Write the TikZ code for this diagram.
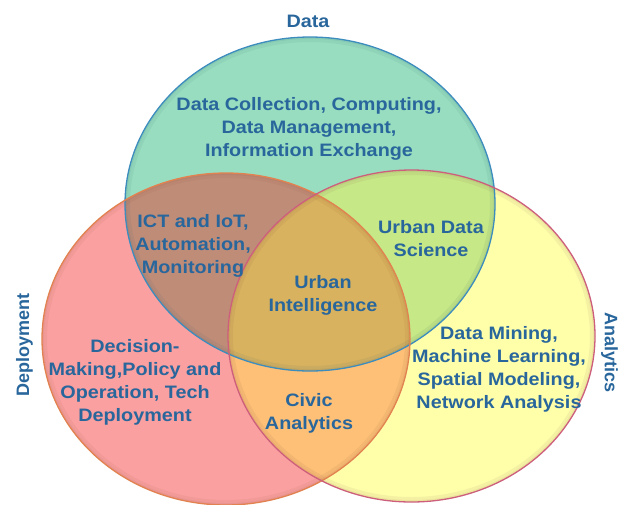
\documentclass[tikz,border=0pt]{standalone}
\usepackage{fontspec}
\setmainfont{Liberation Sans}
\newfontfamily\widefont{Liberation Sans}[FakeStretch=1.1]
\definecolor{txt}{RGB}{40,102,156}
\definecolor{cG}{RGB}{152,221,191}
\definecolor{cR}{RGB}{250,160,160}
\definecolor{cY}{RGB}{255,255,170}
\definecolor{cRG}{RGB}{191,140,120}
\definecolor{cGY}{RGB}{198,232,134}
\definecolor{cRY}{RGB}{253,192,118}
\definecolor{cAll}{RGB}{216,178,94}
\definecolor{bG}{RGB}{60,140,190}
\definecolor{bR}{RGB}{226,130,80}
\definecolor{bY}{RGB}{205,95,125}
\begin{document}
\begin{tikzpicture}[x=1pt,y=-1pt,
  topE/.style={insert path={(310,204) ellipse [x radius=185pt, y radius=167pt]}},
  redE/.style={insert path={(226,339) ellipse [x radius=184pt, y radius=166pt]}},
  yelE/.style={insert path={(411.5,336) ellipse [x radius=183.5pt, y radius=166pt]}},
  lbl/.style={font=\widefont\bfseries\fontsize{18}{23}\selectfont, text=txt, inner sep=0pt, anchor=base},
  side/.style={font=\bfseries\fontsize{18}{23}\selectfont, text=txt, inner sep=0pt},
  glow/.style={line width=#1, opacity=0.07}]
\useasboundingbox (0,0) rectangle (628,504);
\fill[white] (0,0) rectangle (628,504);
% region fills
\fill[cG, topE];
\fill[cR, redE];
\fill[cY, yelE];
\begin{scope}\clip[topE]; \fill[cRG, redE];\end{scope}
\begin{scope}\clip[topE]; \fill[cGY, yelE];\end{scope}
\begin{scope}\clip[redE]; \fill[cRY, yelE];\end{scope}
\begin{scope}\clip[topE]; \clip[redE]; \fill[cAll, yelE];\end{scope}
% inner shading
\begin{scope}\clip[topE]; \draw[glow=10pt, draw=bG!60!black, topE]; \draw[glow=4pt, draw=bG!60!black, topE];\end{scope}
\begin{scope}\clip[redE]; \draw[glow=10pt, draw=bR!60!black, redE]; \draw[glow=4pt, draw=bR!60!black, redE];\end{scope}
\begin{scope}\clip[yelE]; \draw[glow=10pt, draw=bY!60!black, yelE]; \draw[glow=4pt, draw=bY!60!black, yelE];\end{scope}
% borders
\draw[bG, line width=1.3pt, topE];
\draw[bR, line width=1.3pt, redE];
\draw[bY, line width=1.3pt, yelE];
% outer labels
\node[lbl] (data) at (308,27) {Data};
\node[side, rotate=90] (deploy) at (24.5,345) {Deployment};
\node[side, rotate=-90] (analytics) at (609.5,352.5) {Analytics};
% top block
\node[lbl] (t1) at (309,110) {Data Collection, Computing,};
\node[lbl] (t2) at (309,133) {Data Management,};
\node[lbl] (t3) at (309,156) {Information Exchange};
% ICT block
\node[lbl] (i1) at (193,227) {ICT and IoT,};
\node[lbl] (i2) at (193,250) {Automation,};
\node[lbl] (i3) at (193,273) {Monitoring};
% Urban data science
\node[lbl] (u1) at (431,233) {Urban Data};
\node[lbl] (u2) at (431,256) {Science};
% Urban intelligence
\node[lbl] (c1) at (323,288) {Urban};
\node[lbl] (c2) at (323,311) {Intelligence};
% Decision block
\node[lbl] (d1) at (135,352) {Decision-};
\node[lbl] (d2) at (135,375) {Making,Policy and};
\node[lbl] (d3) at (135,398) {Operation, Tech};
\node[lbl] (d4) at (135,421) {Deployment};
% Civic analytics
\node[lbl] (v1) at (309,406) {Civic};
\node[lbl] (v2) at (309,429) {Analytics};
% Analytics block
\node[lbl] (a1) at (499,339) {Data Mining,};
\node[lbl] (a2) at (499,362) {Machine Learning,};
\node[lbl] (a3) at (499,385) {Spatial Modeling,};
\node[lbl] (a4) at (499,408) {Network Analysis};
\end{tikzpicture}
\end{document}
